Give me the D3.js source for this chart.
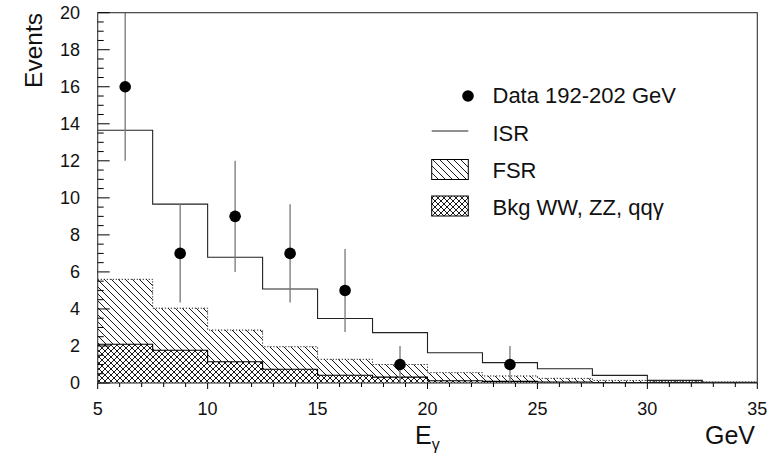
<!DOCTYPE html>
<html>
<head>
<meta charset="utf-8">
<script src="https://cdn.jsdelivr.net/npm/d3@7"></script>
<style>
  html, body { margin: 0; padding: 0; background: #fff; }
  svg { display: block; font-family: Arial, "Liberation Sans", Helvetica, sans-serif; }
</style>
</head>
<body>
<svg id="chart" width="782" height="456"></svg>
<script>
// ---- data ----
const binEdges = [5, 7.5, 10, 12.5, 15, 17.5, 20, 22.5, 25, 27.5, 30, 32.5, 35];
const isrValues = [13.65, 9.66, 6.79, 5.08, 3.48, 2.72, 1.63, 1.10, 0.77, 0.41, 0.14, 0.04];
const fsrValues = [5.6, 4.04, 2.86, 1.96, 1.28, 1.0, 0.56, 0.38, 0.25, 0.14, 0.09, 0.05];
const bkgValues = [2.09, 1.77, 1.15, 0.74, 0.42, 0.32, 0.12, 0.09, 0.05, 0.03, 0.03, 0.03];
const dataX = [6.25, 8.75, 11.25, 13.75, 16.25, 18.75, 23.75];
const dataY = [16, 7, 9, 7, 5, 1, 1];
const dataErrLow = [12, 4.35, 6, 4.35, 2.76, 0, 0];
const dataErrHigh = [20, 9.65, 12, 9.65, 7.24, 2, 2];
const xTicks = [5, 10, 15, 20, 25, 30, 35];
const yTicks = [0, 2, 4, 6, 8, 10, 12, 14, 16, 18, 20];
const legendLabels = ["Data 192-202 GeV", "ISR", "FSR", "Bkg WW, ZZ, qq\u03b3"];

// ---- layout ----
const svg = d3.select("#chart");
const L = 97.7, R = 757.3, T = 12.7, B = 383;
const x = d3.scaleLinear().domain([5, 35]).range([L, R]);
const y = d3.scaleLinear().domain([0, 20]).range([B, T]);

const defs = svg.append("defs");
const s1 = 7;
defs.append("pattern").attr("id", "fsrHatch").attr("patternUnits", "userSpaceOnUse")
  .attr("width", s1).attr("height", s1)
  .append("path")
  .attr("d", `M0,0L${s1},${s1}M${-1},${s1-1}L1,${s1+1}M${s1-1},-1L${s1+1},1`)
  .attr("stroke", "#000").attr("stroke-width", 0.9).attr("fill", "none");
const s2 = 6;
const ch = defs.append("pattern").attr("id", "bkgHatch").attr("patternUnits", "userSpaceOnUse")
  .attr("width", s2).attr("height", s2);
ch.append("rect").attr("width", s2).attr("height", s2).attr("fill", "#fff");
ch.append("path")
  .attr("d", `M0,0L${s2},${s2}M${-1},${s2-1}L1,${s2+1}M${s2-1},-1L${s2+1},1M0,${s2}L${s2},0M-1,1L1,-1M${s2-1},${s2+1}L${s2+1},${s2-1}`)
  .attr("stroke", "#000").attr("stroke-width", 0.9).attr("fill", "none");
defs.append("clipPath").attr("id", "plotClip").append("rect")
  .attr("x", L).attr("y", T).attr("width", R - L).attr("height", B - T);

function stepData(vals) {
  const d = vals.map((v, i) => [binEdges[i], v]);
  d.push([binEdges[binEdges.length - 1], vals[vals.length - 1]]);
  return d;
}
const area = d3.area().curve(d3.curveStepAfter).x(d => x(d[0])).y0(y(0)).y1(d => y(d[1]));
const line = d3.line().curve(d3.curveStepAfter).x(d => x(d[0])).y(d => y(d[1]));

const g = svg.append("g").attr("clip-path", "url(#plotClip)");

// FSR
g.append("path").datum(stepData(fsrValues)).attr("d", area).attr("fill", "url(#fsrHatch)");
g.append("path").datum(stepData(fsrValues)).attr("d", line).attr("fill", "none")
  .attr("stroke", "#000").attr("stroke-width", 0.9).attr("stroke-dasharray", "1.2,1.8");
// Bkg
g.append("path").datum(stepData(bkgValues)).attr("d", area).attr("fill", "url(#bkgHatch)");
g.append("path").datum(stepData(bkgValues)).attr("d", line).attr("fill", "none")
  .attr("stroke", "#000").attr("stroke-width", 1.1);
// ISR
g.append("path").datum(stepData(isrValues)).attr("d", line).attr("fill", "none")
  .attr("stroke", "#222").attr("stroke-width", 1.1);

// data error bars and points
const pts = dataX.map((xv, i) => ({x: xv, y: dataY[i], lo: dataErrLow[i], hi: dataErrHigh[i]}));
g.selectAll("line.err").data(pts).enter().append("line").attr("class", "err")
  .attr("x1", d => x(d.x)).attr("x2", d => x(d.x))
  .attr("y1", d => y(d.lo)).attr("y2", d => y(d.hi))
  .attr("stroke", "#777").attr("stroke-width", 1.3);
g.selectAll("circle.pt").data(pts).enter().append("circle").attr("class", "pt")
  .attr("cx", d => x(d.x)).attr("cy", d => y(d.y)).attr("r", 5.8).attr("fill", "#000");

// frame
svg.append("rect").attr("x", L).attr("y", T).attr("width", R - L).attr("height", B - T)
  .attr("fill", "none").attr("stroke", "#333").attr("stroke-width", 1.1);

// y ticks (inward)
const yMinor = d3.range(0, 20.001, 0.5);
svg.append("g").selectAll("line").data(yMinor).enter().append("line")
  .attr("x1", L).attr("x2", d => L + (d % 2 === 0 ? 12 : 6))
  .attr("y1", d => y(d)).attr("y2", d => y(d))
  .attr("stroke", "#000").attr("stroke-width", 1);
svg.append("g").selectAll("text").data(yTicks).enter().append("text")
  .attr("x", 80).attr("y", d => y(d)).attr("dy", "0.35em")
  .attr("text-anchor", "end").attr("font-size", 18).attr("fill", "#111")
  .text(d => d);

// x ticks (outward)
const xMinor = d3.range(5, 35.001, 1);
svg.append("g").selectAll("line").data(xMinor).enter().append("line")
  .attr("x1", d => x(d)).attr("x2", d => x(d))
  .attr("y1", B).attr("y2", d => B + (d % 5 === 0 ? 6 : 4))
  .attr("stroke", "#000").attr("stroke-width", 1);
svg.append("g").selectAll("text").data(xTicks).enter().append("text")
  .attr("x", d => x(d)).attr("y", 415)
  .attr("text-anchor", "middle").attr("font-size", 18).attr("fill", "#111")
  .text(d => d);

// axis titles
svg.append("text").attr("transform", "translate(41.5,13) rotate(-90)")
  .attr("text-anchor", "end").attr("font-size", 24.5).attr("fill", "#111").text("Events");
const xt = svg.append("text").attr("x", 415).attr("y", 444).attr("font-size", 25).attr("fill", "#111");
xt.append("tspan").text("E");
xt.append("tspan").attr("font-size", 16).attr("dy", 6).text("\u03b3");
svg.append("text").attr("x", 755).attr("y", 444).attr("text-anchor", "end")
  .attr("font-size", 25).attr("fill", "#111").text("GeV");

// legend
const lg = svg.append("g");
const lx0 = 431.7, lx1 = 468.3, tx = 492.5;
lg.append("circle").attr("cx", 468).attr("cy", 96).attr("r", 5.8).attr("fill", "#000");
lg.append("line").attr("x1", lx0).attr("x2", lx1).attr("y1", 131).attr("y2", 131)
  .attr("stroke", "#222").attr("stroke-width", 1.1);
lg.append("rect").attr("x", lx0).attr("y", 159.5).attr("width", lx1 - lx0).attr("height", 20)
  .attr("fill", "url(#fsrHatch)").attr("stroke", "#000").attr("stroke-width", 1);
lg.append("rect").attr("x", lx0).attr("y", 196).attr("width", lx1 - lx0).attr("height", 20)
  .attr("fill", "url(#bkgHatch)").attr("stroke", "#000").attr("stroke-width", 1);
const lBase = [103.3, 140.7, 178.3, 215];
lg.selectAll("text").data(legendLabels).enter().append("text")
  .attr("x", tx).attr("y", (d, i) => lBase[i]).attr("font-size", 22).attr("fill", "#111")
  .text(d => d);
</script>
</body>
</html>
